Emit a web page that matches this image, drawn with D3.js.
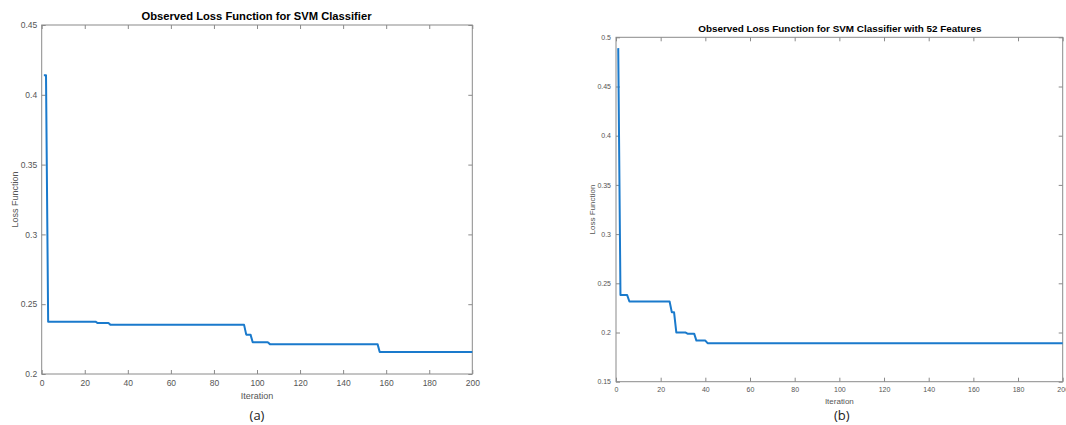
<!DOCTYPE html>
<html>
<head>
<meta charset="utf-8">
<script src="https://cdn.jsdelivr.net/npm/d3@7/dist/d3.min.js"></script>
<style>
  html, body { margin: 0; padding: 0; background: #fff; }
  svg { display: block; }
</style>
</head>
<body>
<svg id="chart" width="1066" height="425"></svg>
<script>
// ---- Data ----
// Panel (a): Observed Loss Function for SVM Classifier
const iterA = [1, 2, 3, 25, 26, 31, 32, 94, 95, 96, 97, 98, 105, 106, 156, 157, 200];
const lossA = [0.414, 0.414, 0.2375, 0.2375, 0.2365, 0.2365, 0.2352, 0.2352, 0.2282, 0.2282, 0.2282, 0.2227, 0.2227, 0.2214, 0.2214, 0.2158, 0.2158];
// Panel (b): Observed Loss Function for SVM Classifier with 52 Features
const iterB = [1, 2, 5, 6, 24, 25, 26, 27, 31, 32, 35, 36, 40, 41, 200];
const lossB = [0.489, 0.238, 0.238, 0.2315, 0.2315, 0.2205, 0.2205, 0.2001, 0.2001, 0.1988, 0.1988, 0.1918, 0.1918, 0.1892, 0.1892];

const xTicks = [0, 20, 40, 60, 80, 100, 120, 140, 160, 180, 200];
const yTicksA = [0.2, 0.25, 0.3, 0.35, 0.4, 0.45];
const yTicksB = [0.15, 0.2, 0.25, 0.3, 0.35, 0.4, 0.45, 0.5];

const titleA = "Observed Loss Function for SVM Classifier";
const titleB = "Observed Loss Function for SVM Classifier with 52 Features";
const xLabel = "Iteration";
const yLabel = "Loss Function";
const captionA = "(a)";
const captionB = "(b)";

// ---- Drawing ----
const svg = d3.select("#chart");
const FONT = "'Liberation Sans', Arial, Helvetica, sans-serif";
const LINE = "#1a7acc";
const AXIS = "#8a8a8a";
const TICKTXT = "#555555";

function panel(cfg) {
  const x = d3.scaleLinear().domain([0, 200]).range([cfg.left, cfg.right]);
  const y = d3.scaleLinear().domain(cfg.yDomain).range([cfg.bottom, cfg.top]);
  const g = svg.append("g");
  const tl = 4;

  const gb = g.append("g").attr("transform", `translate(0,${cfg.bottom})`)
    .call(d3.axisBottom(x).tickValues(xTicks).tickSizeInner(-tl).tickSizeOuter(0).tickPadding(cfg.xPad).tickFormat(d3.format("d")));
  const gt = g.append("g").attr("transform", `translate(0,${cfg.top})`)
    .call(d3.axisTop(x).tickValues(xTicks).tickSizeInner(-tl).tickSizeOuter(0).tickFormat(""));
  const gl = g.append("g").attr("transform", `translate(${cfg.left},0)`)
    .call(d3.axisLeft(y).tickValues(cfg.yTicks).tickSizeInner(-tl).tickSizeOuter(0).tickPadding(cfg.yPad).tickFormat(d => String(+d.toFixed(2))));
  const gr = g.append("g").attr("transform", `translate(${cfg.right},0)`)
    .call(d3.axisRight(y).tickValues(cfg.yTicks).tickSizeInner(-tl).tickSizeOuter(0).tickFormat(""));

  [gb, gt, gl, gr].forEach(a => {
    a.select(".domain").remove();
    a.selectAll(".tick line").attr("stroke", AXIS).attr("stroke-width", 1);
    a.selectAll(".tick text").attr("fill", TICKTXT).style("font-family", FONT).style("font-size", cfg.tickFont + "px");
  });

  g.append("rect")
    .attr("x", cfg.left).attr("y", cfg.top)
    .attr("width", cfg.right - cfg.left).attr("height", cfg.bottom - cfg.top)
    .attr("fill", "none").attr("stroke", AXIS).attr("stroke-width", 1);

  const line = d3.line().x(d => x(d[0])).y(d => y(d[1]));
  g.append("path")
    .datum(cfg.iter.map((it, i) => [it, cfg.loss[i]]))
    .attr("d", line)
    .attr("fill", "none").attr("stroke", LINE).attr("stroke-width", 2)
    .attr("stroke-linejoin", "round");

  const cx = (cfg.left + cfg.right) / 2;
  g.append("text").attr("x", cfg.titleX).attr("y", cfg.titleY)
    .attr("text-anchor", "middle").attr("fill", "#000")
    .style("font-family", FONT).style("font-weight", "bold").style("font-size", cfg.titleFont + "px")
    .text(cfg.title);
  g.append("text").attr("x", cx).attr("y", cfg.xLabY)
    .attr("text-anchor", "middle").attr("fill", TICKTXT)
    .style("font-family", FONT).style("font-size", cfg.labFont + "px")
    .text(xLabel);
  g.append("text")
    .attr("transform", `translate(${cfg.yLabX},${(cfg.top + cfg.bottom) / 2}) rotate(-90)`)
    .attr("text-anchor", "middle").attr("fill", TICKTXT)
    .style("font-family", FONT).style("font-size", cfg.labFont + "px")
    .text(yLabel);
  g.append("text").attr("x", cfg.capX).attr("y", cfg.capY)
    .attr("text-anchor", "middle").attr("fill", "#222")
    .style("font-family", "'Open Sans', 'Liberation Sans', sans-serif").style("font-size", "13px")
    .text(cfg.caption);
}

panel({
  left: 41.7, right: 472.3, top: 25, bottom: 374,
  yDomain: [0.2, 0.45], yTicks: yTicksA,
  iter: iterA, loss: lossA,
  title: titleA, caption: captionA,
  tickFont: 8.5, xPad: 6, yPad: 4.5,
  titleFont: 11.2, titleX: 256.5, titleY: 20,
  labFont: 9, xLabY: 398.5, yLabX: 18,
  capX: 257, capY: 419.5
});

panel({
  left: 616, right: 1062.7, top: 37.3, bottom: 381.7,
  yDomain: [0.15, 0.5], yTicks: yTicksB,
  iter: iterB, loss: lossB,
  title: titleB, caption: captionB,
  tickFont: 7, xPad: 5.5, yPad: 5,
  titleFont: 9.9, titleX: 839.8, titleY: 31.5,
  labFont: 8, xLabY: 403.5, yLabX: 594.5,
  capX: 841.7, capY: 419.5
});
</script>
</body>
</html>
